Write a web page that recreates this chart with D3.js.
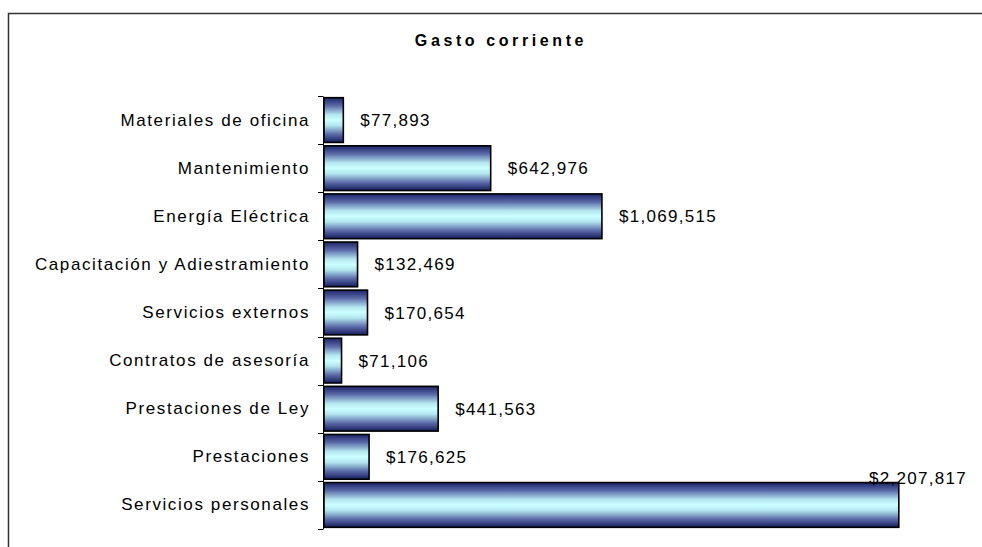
<!DOCTYPE html>
<html>
<head>
<meta charset="utf-8">
<script src="https://cdn.jsdelivr.net/npm/d3@7"></script>
<style>
  body { margin: 0; background: #fff; }
  text { font-family: "Liberation Sans", Arial, sans-serif; fill: #000; }
</style>
</head>
<body>
<div id="chart"></div>
<script>
// ---- data
const categories = ["Materiales de oficina", "Mantenimiento", "Energía Eléctrica",
  "Capacitación y Adiestramiento", "Servicios externos", "Contratos de asesoría",
  "Prestaciones de Ley", "Prestaciones", "Servicios personales"]
const values = [77893, 642976, 1069515, 132469, 170654, 71106, 441563, 176625, 2207817]
const xDomain = [0, 2500000]
const title = "Gasto corriente"

const rows = categories.map((c, i) => ({ cat: c, value: values[i] }))

// ---- dimensions
const dims = { width: 982, height: 547, plotLeft: 323, plotRight: 975, plotTop: 96, plotBottom: 529 }

const svg = d3.select("#chart").append("svg")
  .attr("width", dims.width)
  .attr("height", dims.height)

// outer chart border (right and bottom run off the picture)
svg.append("rect")
  .attr("x", 8.5).attr("y", 13.5)
  .attr("width", 1000).attr("height", 600)
  .attr("fill", "none").attr("stroke", "#333").attr("stroke-width", 1.5)

// gradient for bars
const grad = svg.append("defs").append("linearGradient")
  .attr("id", "barGrad").attr("x1", 0).attr("y1", 0).attr("x2", 0).attr("y2", 1)
grad.selectAll("stop")
  .data([[0, "#1c2468"], [0.18, "#5a6aa8"], [0.38, "#b4e6f0"], [0.5, "#ccffff"], [0.62, "#b4e6f0"], [0.82, "#5a6aa8"], [1, "#161d5c"]])
  .join("stop")
  .attr("offset", d => d[0]).attr("stop-color", d => d[1])

// ---- scales
const x = d3.scaleLinear().domain(xDomain).range([dims.plotLeft, dims.plotRight])
const y = d3.scaleBand().domain(categories).range([dims.plotTop, dims.plotBottom]).paddingInner(0.07).paddingOuter(0.035)

// ---- title
svg.append("text")
  .attr("x", 501).attr("y", 46)
  .attr("text-anchor", "middle")
  .style("font-size", "16px").style("font-weight", "bold").style("letter-spacing", "3.6px")
  .text(title)

// ---- axis
const yAxis = d3.axisLeft(y).tickSize(0).tickPadding(13).tickFormat(d => d)
const axisG = svg.append("g")
  .attr("transform", `translate(${dims.plotLeft},0)`)
  .call(yAxis)
axisG.select(".domain").attr("stroke", "#000").attr("stroke-width", 1)
axisG.selectAll(".tick text")
  .style("font-size", "17px").style("letter-spacing", "1.6px")
  .attr("font-family", null)

// boundary tick marks between categories
const step = y.step()
const bounds = d3.range(categories.length + 1).map(i => dims.plotTop + i * step)
svg.append("g").selectAll("line")
  .data(bounds)
  .join("line")
  .attr("x1", dims.plotLeft - 5).attr("x2", dims.plotLeft)
  .attr("y1", d => Math.round(d) + 0.5).attr("y2", d => Math.round(d) + 0.5)
  .attr("stroke", "#000")

// ---- bars
svg.append("g").selectAll("rect")
  .data(rows)
  .join("rect")
  .attr("x", x(0) + 1)
  .attr("y", d => y(d.cat))
  .attr("width", d => x(d.value) - x(0) - 1)
  .attr("height", y.bandwidth())
  .attr("fill", "url(#barGrad)")
  .attr("stroke", "#000").attr("stroke-width", 1.6)

// ---- value labels
const fmt = d3.format("$,")
svg.append("g").selectAll("text")
  .data(rows)
  .join("text")
  .style("font-size", "17px").style("letter-spacing", "1.3px")
  .text(d => fmt(d.value))
  .each(function (d) {
    const t = d3.select(this)
    const w = this.getComputedTextLength()
    let lx = x(d.value) + 17
    let ly = y(d.cat) + y.bandwidth() / 2 + 6
    if (lx + w > dims.plotRight) {
      lx = dims.plotRight - 8 - w
      ly = y(d.cat) + 1
    }
    t.attr("x", lx).attr("y", ly)
  })
</script>
</body>
</html>
